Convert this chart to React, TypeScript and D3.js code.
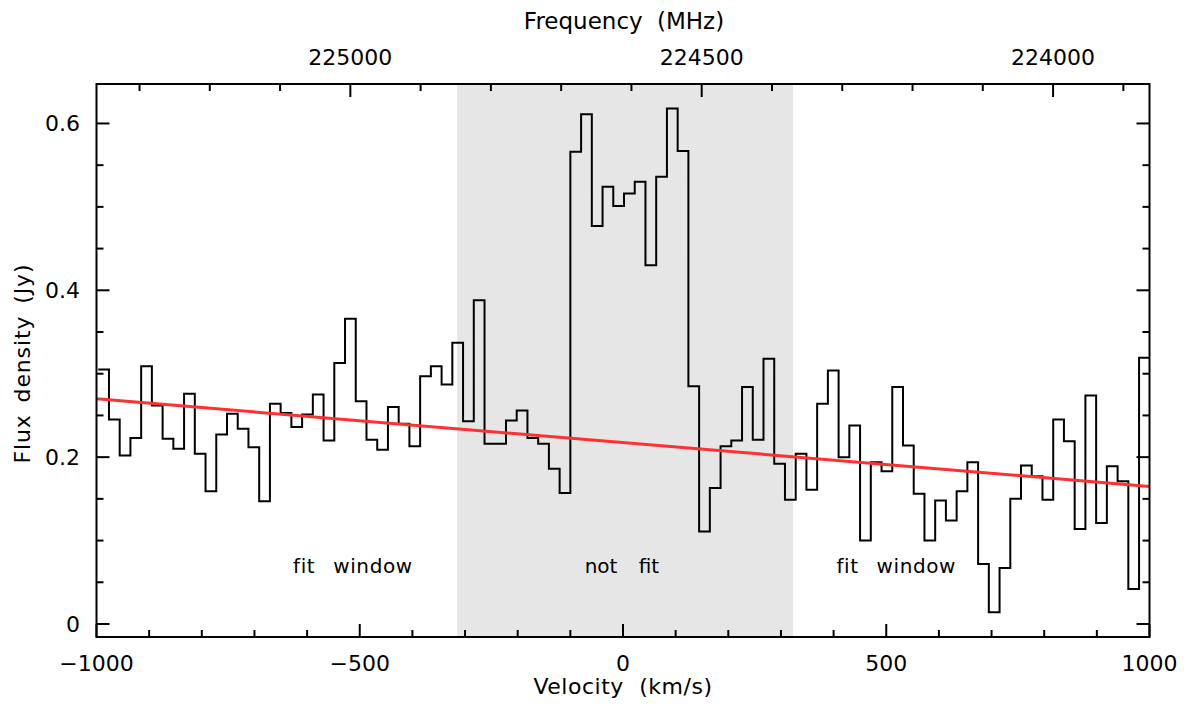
import React from "react";
import * as d3 from "d3";

// ---- data ----
const flux: number[] = [
  0.305, 0.245, 0.202, 0.223, 0.309, 0.262, 0.222, 0.210, 0.276, 0.204,
  0.159, 0.227, 0.252, 0.234, 0.212, 0.147, 0.264, 0.253, 0.236, 0.251,
  0.275, 0.220, 0.313, 0.366, 0.267, 0.221, 0.209, 0.260, 0.240, 0.213,
  0.297, 0.309, 0.287, 0.337, 0.243, 0.388, 0.216, 0.216, 0.244, 0.256,
  0.223, 0.216, 0.186, 0.157, 0.566, 0.611, 0.477, 0.524, 0.501, 0.516,
  0.530, 0.430, 0.536, 0.618, 0.567, 0.285, 0.111, 0.163, 0.213, 0.220,
  0.284, 0.221, 0.318, 0.192, 0.149, 0.204, 0.161, 0.264, 0.304, 0.200,
  0.238, 0.100, 0.194, 0.183, 0.284, 0.214, 0.156, 0.100, 0.148, 0.124,
  0.159, 0.194, 0.072, 0.014, 0.067, 0.150, 0.190, 0.177, 0.149, 0.245,
  0.219, 0.114, 0.274, 0.121, 0.189, 0.171, 0.042, 0.319,
];
const channelStart = -996.7; // km/s, left edge of first channel
const channelWidth = 20.38; // km/s
const baselineIntercept = 0.2174; // Jy
const baselineSlope = -5.25e-5; // Jy per km/s
const notFitRange = [-315, 323];
const restFreq = 224612; // MHz at v=0
const cLight = 299792.458;
const velMajorTicks = [-1000, -500, 0, 500, 1000];
const velTickLabels = ["\u22121000", "\u2212500", "0", "500", "1000"];
const fluxMajorTicks = [0, 0.2, 0.4, 0.6];
const fluxTickLabels = ["0", "0.2", "0.4", "0.6"];
const freqMajorTicks = [225000, 224500, 224000];
const annotations = [
  { v: -513, text: "fit window", ws: 11, ls: 0.6 },
  { v: -2, text: "not fit", ws: 15, ls: 0 },
  { v: 519, text: "fit window", ws: 11, ls: 0.6 },
];

const W = 1186;
const H = 707;
const L = 96.5, R = 1149.5, T = 84, B = 637;
const FONT = "'DejaVu Sans', sans-serif";

export default function App() {
  const x = d3.scaleLinear().domain([-1000, 1000]).range([L, R]);
  const y = d3.scaleLinear().domain([-0.0156, 0.6473]).range([B, T]);
  const velFromFreq = (f: number) => cLight * (1 - f / restFreq);

  const stepPts: [number, number][] = flux.map((f, i) => [channelStart + i * channelWidth, f]);
  stepPts.push([channelStart + flux.length * channelWidth, flux[flux.length - 1]]);
  const stepLine = d3
    .line<[number, number]>()
    .x((d) => x(d[0]))
    .y((d) => y(d[1]))
    .curve(d3.curveStepAfter);

  const baseLine = d3
    .line<number>()
    .x((v) => x(v))
    .y((v) => y(baselineIntercept + baselineSlope * v));

  const velMinor = d3.range(-1000, 1001, 100);
  const fluxMinor = d3.range(0, 0.651, 0.05).filter((v) => y(v) >= T);
  const freqMinor = d3.range(223800, 225401, 100).filter((f) => {
    const px = x(velFromFreq(f));
    return px >= L && px <= R;
  });
  const isMajor = (arr: number[], v: number) => arr.some((m) => Math.abs(m - v) < 1e-6);

  const MAJ = 13, MIN = 7;
  const tickStyle = { stroke: "#000", strokeWidth: 2 };

  return (
    <svg width={W} height={H} style={{ position: "absolute", left: 0, top: 0, background: "#fff" }} fontFamily={FONT}>
      <defs>
        <clipPath id="plotclip">
          <rect x={L} y={T} width={R - L} height={B - T} />
        </clipPath>
      </defs>
      <rect x={0} y={0} width={W} height={H} fill="#fff" />
      <rect x={x(notFitRange[0])} y={T} width={x(notFitRange[1]) - x(notFitRange[0])} height={B - T} fill="#e6e6e6" />
      <g clipPath="url(#plotclip)">
        <path d={stepLine(stepPts) || ""} fill="none" stroke="#000" strokeWidth={2} />
        <path d={baseLine([-1000, 1000]) || ""} fill="none" stroke="#ff3030" strokeWidth={3} />
      </g>
      {annotations.map((a, i) => (
        <text key={i} x={x(a.v)} y={573} textAnchor="middle" fontSize={20} wordSpacing={a.ws} letterSpacing={a.ls}>
          {a.text}
        </text>
      ))}
      {/* bottom ticks */}
      {velMinor.map((v) => {
        const len = isMajor(velMajorTicks, v) ? MAJ : MIN;
        return <line key={"b" + v} x1={x(v)} x2={x(v)} y1={B} y2={B - len} {...tickStyle} />;
      })}
      {/* top ticks (frequency) */}
      {freqMinor.map((f) => {
        const len = isMajor(freqMajorTicks, f) ? MAJ : MIN;
        const px = x(velFromFreq(f));
        return <line key={"t" + f} x1={px} x2={px} y1={T} y2={T + len} {...tickStyle} />;
      })}
      {/* left & right ticks */}
      {fluxMinor.map((v) => {
        const len = isMajor(fluxMajorTicks, v) ? MAJ : MIN;
        return (
          <g key={"y" + v}>
            <line x1={L} x2={L + len} y1={y(v)} y2={y(v)} {...tickStyle} />
            <line x1={R} x2={R - len} y1={y(v)} y2={y(v)} {...tickStyle} />
          </g>
        );
      })}
      <rect x={L} y={T} width={R - L} height={B - T} fill="none" stroke="#000" strokeWidth={2} />
      {/* tick labels */}
      {velMajorTicks.map((v, i) => (
        <text key={"bl" + v} x={x(v)} y={671} textAnchor="middle" fontSize={22}>
          {velTickLabels[i]}
        </text>
      ))}
      {freqMajorTicks.map((f) => (
        <text key={"tl" + f} x={x(velFromFreq(f))} y={65} textAnchor="middle" fontSize={22}>
          {String(f)}
        </text>
      ))}
      {fluxMajorTicks.map((v, i) => (
        <text key={"yl" + v} x={80} y={y(v) + 8} textAnchor="end" fontSize={22}>
          {fluxTickLabels[i]}
        </text>
      ))}
      {/* axis titles */}
      <text x={x(0)} y={694} textAnchor="middle" fontSize={22} wordSpacing={8} letterSpacing={0.5}>
        Velocity (km/s)
      </text>
      <text x={x(0) + 1} y={29} textAnchor="middle" fontSize={23} wordSpacing={7}>
        Frequency (MHz)
      </text>
      <text
        transform={`translate(30, ${364}) rotate(-90)`}
        textAnchor="middle"
        fontSize={22}
        wordSpacing={4}
        textLength={199}
        lengthAdjust="spacing"
      >
        Flux density (Jy)
      </text>
    </svg>
  );
}
